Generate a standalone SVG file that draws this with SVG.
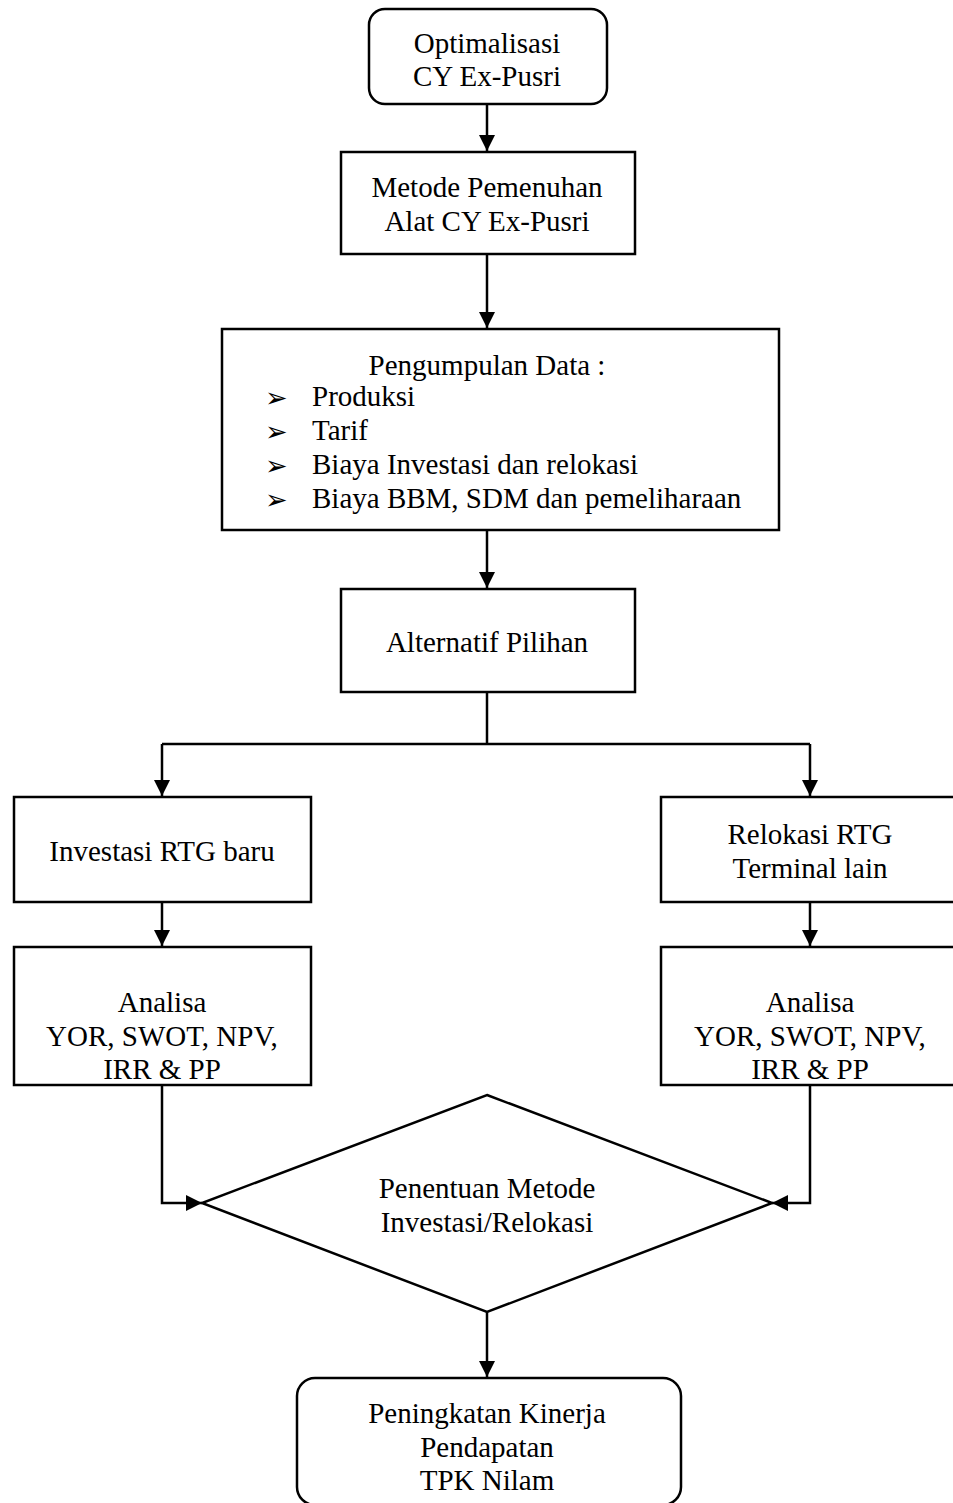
<svg xmlns="http://www.w3.org/2000/svg" width="953" height="1503" viewBox="0 0 953 1503">
<style>
.n{fill:#fff;stroke:#000;stroke-width:2.5}
.t{font-family:"Liberation Serif","Times New Roman",serif;font-size:29px;fill:#000;text-anchor:middle}
.l{font-family:"Liberation Serif","Times New Roman",serif;font-size:29px;fill:#000}
.b{font-family:"DejaVu Sans",sans-serif;font-size:27px;fill:#000}
.c{fill:none;stroke:#000;stroke-width:2.5}
</style>
<defs>
<marker id="ah" markerWidth="16" markerHeight="16" refX="16" refY="8" orient="auto" markerUnits="userSpaceOnUse" viewBox="0 0 16 16">
<path d="M0,0 L16,8 L0,16 z" fill="#000"/>
</marker>
</defs>
<rect width="953" height="1503" fill="#fff"/>
<g id="connectors">
<path class="c" d="M487,104 V151" marker-end="url(#ah)"/>
<path class="c" d="M487,254 V328" marker-end="url(#ah)"/>
<path class="c" d="M487,530 V588" marker-end="url(#ah)"/>
<path class="c" d="M487,692 V744"/>
<path class="c" d="M162,744 H810"/>
<path class="c" d="M162,744 V796" marker-end="url(#ah)"/>
<path class="c" d="M810,744 V796" marker-end="url(#ah)"/>
<path class="c" d="M162,902 V946" marker-end="url(#ah)"/>
<path class="c" d="M810,902 V946" marker-end="url(#ah)"/>
<path class="c" d="M162,1085 V1203 H202" marker-end="url(#ah)"/>
<path class="c" d="M810,1085 V1203 H772" marker-end="url(#ah)"/>
<path class="c" d="M487,1312 V1377" marker-end="url(#ah)"/>
</g>
<g id="n1">
<rect class="n" x="369" y="9" width="238" height="95" rx="16"/>
<text class="t" x="487" y="53">Optimalisasi</text>
<text class="t" x="487" y="86">CY Ex-Pusri</text>
</g>
<g id="n2">
<rect class="n" x="341" y="152" width="294" height="102"/>
<text class="t" x="487" y="197">Metode Pemenuhan</text>
<text class="t" x="487" y="231">Alat CY Ex-Pusri</text>
</g>
<g id="n3">
<rect class="n" x="222" y="329" width="557" height="201"/>
<text class="t" x="487" y="375">Pengumpulan Data :</text>
<text class="b" x="265" y="407">➢</text>
<text class="l" x="312" y="406">Produksi</text>
<text class="b" x="265" y="441">➢</text>
<text class="l" x="312" y="440">Tarif</text>
<text class="b" x="265" y="475">➢</text>
<text class="l" x="312" y="474">Biaya Investasi dan relokasi</text>
<text class="b" x="265" y="509">➢</text>
<text class="l" x="312" y="508">Biaya BBM, SDM dan pemeliharaan</text>
</g>
<g id="n4">
<rect class="n" x="341" y="589" width="294" height="103"/>
<text class="t" x="487" y="652">Alternatif Pilihan</text>
</g>
<g id="n5">
<rect class="n" x="14" y="797" width="297" height="105"/>
<text class="t" x="162" y="861">Investasi RTG baru</text>
</g>
<g id="n6">
<rect class="n" x="661" y="797" width="300" height="105"/>
<text class="t" x="810" y="844">Relokasi RTG</text>
<text class="t" x="810" y="878">Terminal lain</text>
</g>
<g id="n7">
<rect class="n" x="14" y="947" width="297" height="138"/>
<text class="t" x="162" y="1012">Analisa</text>
<text class="t" x="162" y="1046">YOR, SWOT, NPV,</text>
<text class="t" x="162" y="1079">IRR &amp; PP</text>
</g>
<g id="n8">
<rect class="n" x="661" y="947" width="300" height="138"/>
<text class="t" x="810" y="1012">Analisa</text>
<text class="t" x="810" y="1046">YOR, SWOT, NPV,</text>
<text class="t" x="810" y="1079">IRR &amp; PP</text>
</g>
<g id="n9">
<polygon class="n" points="487,1095 772,1203 487,1312 202,1203"/>
<text class="t" x="487" y="1198">Penentuan Metode</text>
<text class="t" x="487" y="1232">Investasi/Relokasi</text>
</g>
<g id="n10">
<rect class="n" x="297" y="1378" width="384" height="127" rx="18"/>
<text class="t" x="487" y="1423">Peningkatan Kinerja</text>
<text class="t" x="487" y="1457">Pendapatan</text>
<text class="t" x="487" y="1490">TPK Nilam</text>
</g>
</svg>
